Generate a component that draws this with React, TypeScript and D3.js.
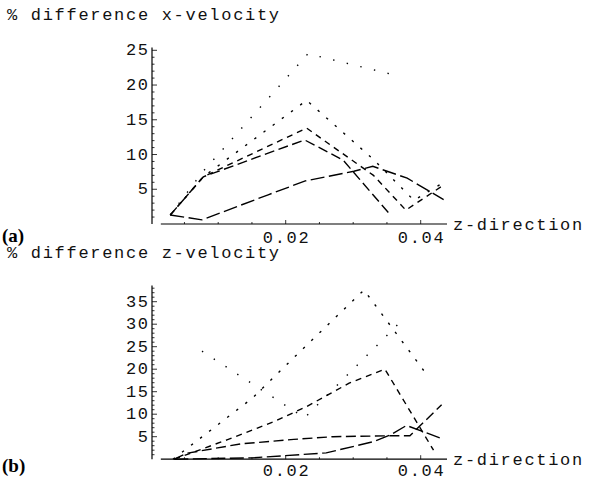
import React, { useEffect, useRef } from "react";
import * as d3 from "d3";

// tick labels
const xTicks = [0.02, 0.04];
const yTicksA = [5, 10, 15, 20, 25];
const yTicksB = [5, 10, 15, 20, 25, 30, 35];

// (a) % difference x-velocity
const aSparseX = [0.0029, 0.0077, 0.0233, 0.0359];
const aSparseY = [1.3, 7.5, 24.5, 21.5];
const aDottedX = [0.0029, 0.0078, 0.0231, 0.033, 0.039, 0.0434];
const aDottedY = [1.3, 6.8, 17.8, 9.3, 3.4, 6.0];
const aDashedX = [0.0029, 0.0078, 0.0231, 0.033, 0.0378, 0.0434];
const aDashedY = [1.3, 6.8, 13.8, 7.0, 2.0, 5.6];
const aLongX = [0.0029, 0.0078, 0.0228, 0.0285, 0.0356];
const aLongY = [1.3, 6.8, 12.1, 9.2, 1.2];
const aLongestX = [0.0029, 0.0076, 0.0174, 0.0229, 0.0301, 0.0329, 0.038, 0.0434];
const aLongestY = [1.3, 0.6, 4.2, 6.2, 7.6, 8.3, 6.6, 3.5];

// (b) % difference z-velocity
const bSparseX = [0.0076, 0.0228, 0.037];
const bSparseY = [24.0, 9.2, 30.5];
const bDottedX = [0.0033, 0.015, 0.0226, 0.0316, 0.0406];
const bDottedY = [0, 13.5, 24.6, 37.6, 19.4];
const bDashedX = [0.0035, 0.0113, 0.0182, 0.0231, 0.0294, 0.0347, 0.0419];
const bDashedY = [0, 4.3, 8.3, 11.7, 16.9, 20.0, 2.0];
const bLongX = [0.0035, 0.0053, 0.0133, 0.0212, 0.027, 0.035, 0.0384, 0.0431];
const bLongY = [0, 1.3, 3.4, 4.4, 5.0, 5.2, 5.2, 12.1];
const bLongestX = [0.0035, 0.015, 0.026, 0.033, 0.0355, 0.0379, 0.0431];
const bLongestY = [0, 0.3, 1.4, 3.9, 5.4, 7.5, 4.6];

const dashes = ["1.4 12.6", "2.4 9", "6 5", "10 4.5", "14 4.5"];

const mono = "'Liberation Mono', 'DejaVu Sans Mono', monospace";
const spacing = 1.7;

function monoText(sel) {
  return sel
    .attr("font-family", mono)
    .attr("font-size", 17)
    .attr("letter-spacing", spacing)
    .attr("fill", "#111");
}

function drawPanel(svg, opts) {
  const { x, y, yTicks, yTop, series, title, titleY, tag, tagY, labelY } = opts;
  const g = svg.append("g");

  // axes
  g.append("line")
    .attr("x1", 152).attr("x2", 152)
    .attr("y1", y(yTop)).attr("y2", y(0))
    .attr("stroke", "#000").attr("stroke-width", 1.2);
  g.append("line")
    .attr("x1", x(0.0015)).attr("x2", x(0.0439))
    .attr("y1", y(0)).attr("y2", y(0))
    .attr("stroke", "#000").attr("stroke-width", 1.2);

  // minor + major y ticks
  const minor = d3.range(1, Math.floor(yTop) + 1);
  g.selectAll(".ym").data(minor).join("line")
    .attr("x1", 152).attr("x2", (d) => (d % 5 === 0 ? 157 : 154.5))
    .attr("y1", (d) => y(d)).attr("y2", (d) => y(d))
    .attr("stroke", "#000").attr("stroke-width", 0.8);
  g.selectAll(".yl").data(yTicks).join("text")
    .attr("x", 148 + spacing).attr("y", (d) => y(d) + 5)
    .attr("text-anchor", "end")
    .call(monoText)
    .text((d) => d);

  // x ticks
  const xMinor = d3.range(0.005, 0.0431, 0.005);
  g.selectAll(".xm").data(xMinor).join("line")
    .attr("x1", (d) => x(d)).attr("x2", (d) => x(d))
    .attr("y1", y(0)).attr("y2", (d) => (Math.abs(d - 0.02) < 1e-6 || Math.abs(d - 0.04) < 1e-6 ? y(0) - 4 : y(0) - 2))
    .attr("stroke", "#000").attr("stroke-width", 0.8);
  g.selectAll(".xl").data(xTicks).join("text")
    .attr("x", (d) => x(d) + spacing / 2).attr("y", labelY)
    .attr("text-anchor", "middle")
    .call(monoText)
    .text((d) => d3.format(".2f")(d));

  g.append("text")
    .attr("x", 453).attr("y", y(0) + 6)
    .call(monoText)
    .text("z-direction");

  g.append("text")
    .attr("x", 7).attr("y", titleY)
    .call(monoText)
    .text(title);

  g.append("text")
    .attr("x", 2).attr("y", tagY)
    .attr("font-family", "'Liberation Serif', serif").attr("font-weight", "bold").attr("font-size", 19)
    .text(tag);

  const line = d3.line().x((d) => x(d[0])).y((d) => y(d[1]));
  series.forEach((s, i) => {
    g.append("path")
      .attr("d", line(d3.zip(s[0], s[1])))
      .attr("fill", "none")
      .attr("stroke", "#000")
      .attr("stroke-width", 1.4)
      .attr("stroke-dasharray", dashes[i]);
  });
}

export default function App() {
  const ref = useRef(null);

  useEffect(() => {
    const svg = d3.select(ref.current);
    svg.selectAll("*").remove();

    const x = d3.scaleLinear().domain([0.02, 0.04]).range([285.7, 420.7]);
    const yA = d3.scaleLinear().domain([0, 25]).range([224, 50.3]);
    const yB = d3.scaleLinear().domain([0, 35]).range([459.2, 301.7]);

    drawPanel(svg, {
      x, y: yA, yTicks: yTicksA, yTop: 25.4,
      series: [[aSparseX, aSparseY], [aDottedX, aDottedY], [aDashedX, aDashedY], [aLongX, aLongY], [aLongestX, aLongestY]],
      title: "% difference x-velocity", titleY: 20, tag: "(a)", tagY: 242, labelY: 243,
    });
    drawPanel(svg, {
      x, y: yB, yTicks: yTicksB, yTop: 38.6,
      series: [[bSparseX, bSparseY], [bDottedX, bDottedY], [bDashedX, bDashedY], [bLongX, bLongY], [bLongestX, bLongestY]],
      title: "% difference z-velocity", titleY: 258, tag: "(b)", tagY: 472, labelY: 476,
    });
  }, []);

  return (
    <svg ref={ref} width={590} height={481}
      style={{ position: "absolute", left: 0, top: 0, background: "#fff" }} />
  );
}
